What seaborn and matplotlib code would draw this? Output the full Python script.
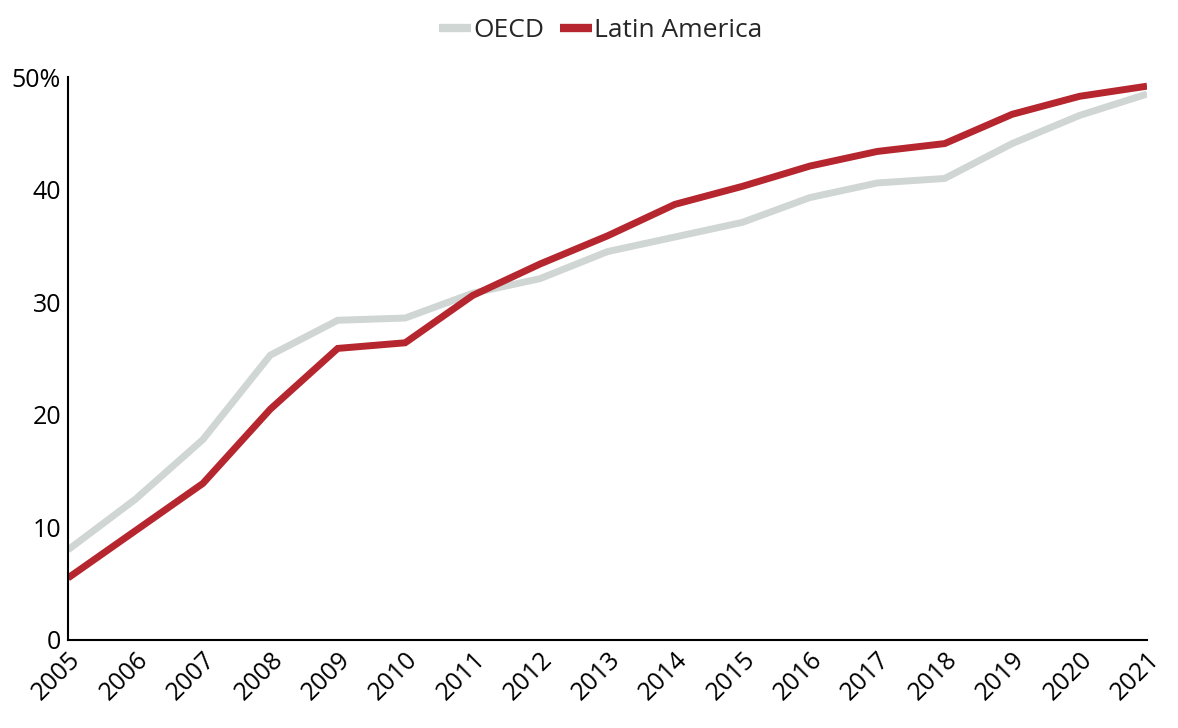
import pandas as pd
import seaborn as sns
import matplotlib.pyplot as plt

years = list(range(2005, 2022))
oecd = [8.0, 12.5, 17.8, 25.3, 28.4, 28.6, 30.8, 32.1, 34.5, 35.8, 37.1, 39.3, 40.6, 41.0, 44.1, 46.6, 48.5]
latam = [5.5, 9.7, 13.9, 20.5, 25.9, 26.4, 30.6, 33.4, 35.9, 38.7, 40.3, 42.1, 43.4, 44.1, 46.7, 48.3, 49.2]
series = ['OECD', 'Latin America']
colors = ['#cfd6d3', '#b5262e']
ytick_labels = ['0', '10', '20', '30', '40', '50%']

df = pd.DataFrame({'Year': years * 2,
                   'Value': oecd + latam,
                   'Series': ['OECD'] * len(years) + ['Latin America'] * len(years)})

sns.set_theme(style='white')
plt.rcParams['font.family'] = ['Open Sans', 'DejaVu Sans']

fig = plt.figure(figsize=(11.78, 7.28), dpi=100)
ax = fig.add_axes([0.0577, 0.121, 0.916, 0.773])
sns.lineplot(data=df, x='Year', y='Value', hue='Series', hue_order=series,
             palette=colors, linewidth=5, ax=ax, legend=True)
for line in ax.lines:
    line.set_solid_capstyle('butt')
    line.set_solid_joinstyle('miter')

ax.set_xlim(2005, 2021)
ax.set_ylim(0, 50)
ax.set_xticks(years)
ax.set_xticklabels([str(y) for y in years], rotation=45, ha='right',
                   rotation_mode='anchor', fontsize=18)
ax.set_yticks([0, 10, 20, 30, 40, 50])
ax.set_yticklabels(ytick_labels, fontsize=18)
ax.tick_params(axis='both', length=0, pad=5, colors='black')
ax.set_xlabel('')
ax.set_ylabel('')
for s in ['top', 'right']:
    ax.spines[s].set_visible(False)
for s in ['left', 'bottom']:
    ax.spines[s].set_color('black')
    ax.spines[s].set_linewidth(1.5)

handles, labels = ax.get_legend_handles_labels()
ax.get_legend().remove()
leg = fig.legend(handles, labels, loc='center', bbox_to_anchor=(0.51, 0.958),
                 ncol=2, frameon=False, fontsize=19, handlelength=1.2,
                 handletextpad=0.1, columnspacing=0.6)
for h in leg.legend_handles:
    h.set_linewidth(6)
    h.set_solid_capstyle('butt')

plt.savefig('out.png', dpi=100, facecolor='w')
